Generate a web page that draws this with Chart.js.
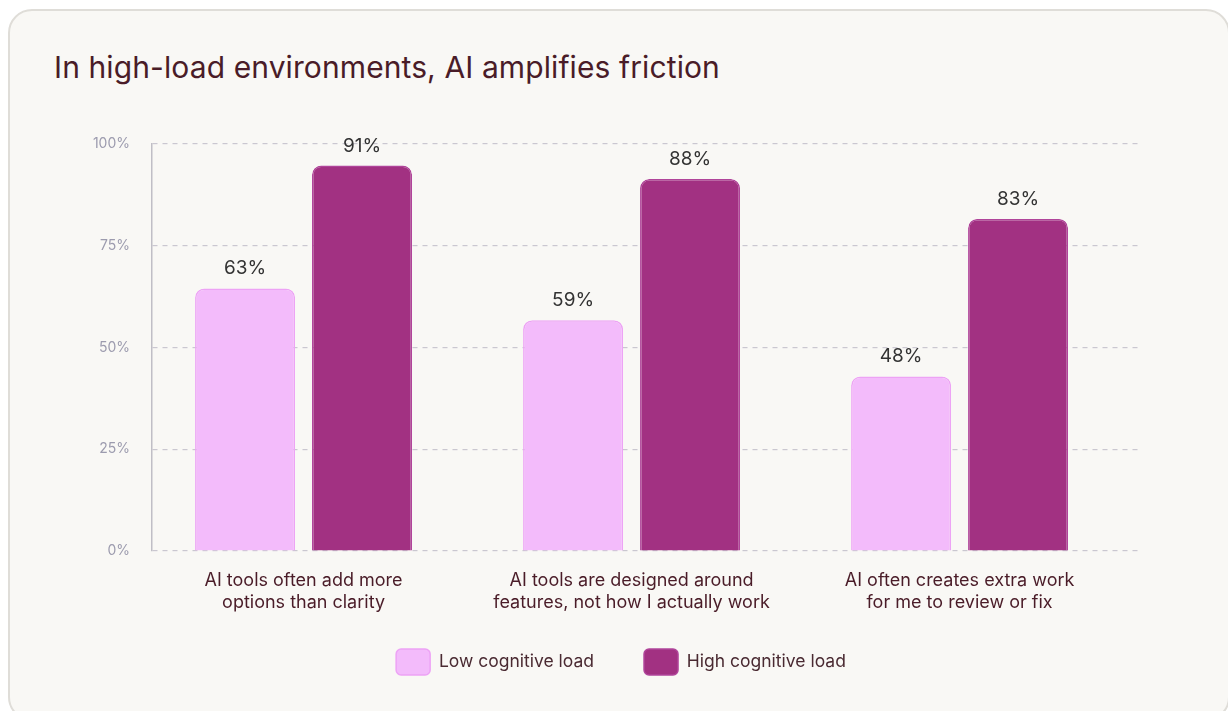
<!DOCTYPE html>
<html>
<head>
<meta charset="utf-8">
<script src="https://cdn.jsdelivr.net/npm/chart.js@4.4.1/dist/chart.umd.min.js"></script>
<style>
  html, body { margin: 0; padding: 0; background: #ffffff; overflow: hidden; }
  body { width: 1228px; height: 711px; position: relative; font-family: Inter, sans-serif; }
  .card {
    position: absolute; left: 8px; top: 9px; width: 1222px; height: 712px;
    box-sizing: border-box; border: 2px solid #dfddd8; border-radius: 24px;
    background: #f9f8f5;
  }
  h1 {
    position: absolute; left: 54px; top: 49px; margin: 0;
    font: 400 30px Inter, sans-serif; color: #4a1c28; letter-spacing: 0.1px;
  }
  .wrap { position: absolute; left: 0; top: 0; width: 1228px; height: 711px; }
</style>
</head>
<body>
<div class="card"></div>
<h1>In high-load environments, AI amplifies friction</h1>
<div class="wrap"><canvas id="bars"></canvas></div>
<script>
const categories = [
  ['AI tools often add more', 'options than clarity'],
  ['AI tools are designed around', 'features, not how I actually work'],
  ['AI often creates extra work', 'for me to review or fix']
]
const seriesNames = ['Low cognitive load', 'High cognitive load']
// bar heights as drawn in the picture (%)
const lowValues = [64.5, 56.7, 42.9]
const highValues = [94.7, 91.4, 81.6]
// printed labels above bars
const lowLabels = ['63%', '59%', '48%']
const highLabels = ['91%', '88%', '83%']
const yTicks = [0, 25, 50, 75, 100]

const toPoints = (vals) => vals.map((v, i) => ({ x: i, y: v }))

const valueLabels = {
  id: 'valueLabels',
  afterDatasetsDraw(chart) {
    const ctx = chart.ctx
    const texts = [lowLabels, highLabels]
    ctx.save()
    ctx.font = '400 19px Inter, sans-serif'
    ctx.fillStyle = '#333333'
    ctx.textAlign = 'center'
    ctx.textBaseline = 'alphabetic'
    chart.data.datasets.forEach((ds, i) => {
      chart.getDatasetMeta(i).data.forEach((bar, j) => {
        ctx.fillText(texts[i][j], bar.x, bar.y - 14)
      })
    })
    ctx.restore()
  }
}

// nudge the legend so it sits centred like the original
const legendShift = {
  id: 'legendShift',
  afterLayout(chart) {
    chart.legend.left += 21
    chart.legend.right += 21
  }
}

const el = document.getElementById('bars')
new Chart(el.getContext('2d'), {
  type: 'bar',
  data: {
    datasets: [
      {
        label: seriesNames[0], data: toPoints(lowValues),
        backgroundColor: '#f3bbfb', borderColor: '#eda3f5', borderWidth: 1.5,
        borderRadius: { topLeft: 9, topRight: 9 }, borderSkipped: 'bottom'
      },
      {
        label: seriesNames[1], data: toPoints(highValues),
        backgroundColor: '#a23182', borderColor: '#b0449a', borderWidth: 1.5,
        borderRadius: { topLeft: 9, topRight: 9 }, borderSkipped: 'bottom'
      }
    ]
  },
  options: {
    responsive: true,
    maintainAspectRatio: false,
    animation: false,
    categoryPercentage: 0.713,
    barPercentage: 0.855,
    layout: { padding: { top: 144, left: 60, right: 88, bottom: 26 } },
    scales: {
      x: {
        type: 'linear',
        offset: false,
        min: -0.462, max: 2.550,
        afterBuildTicks: (s) => { s.ticks = categories.map((c, i) => ({ value: i })) },
        grid: { display: false },
        border: { display: false },
        ticks: {
          color: '#4a1c28', font: { family: 'Inter', size: 18, lineHeight: 1.22 },
          mirror: true, padding: -41, maxRotation: 0,
          callback: (v) => categories[v]
        },
        afterFit: (s) => { s.height = 48 }
      },
      y: {
        min: 0, max: 100,
        afterBuildTicks: (s) => { s.ticks = yTicks.map(v => ({ value: v })) },
        grid: { color: '#cac7d0', lineWidth: 1.2, drawTicks: false },
        border: { display: true, color: '#c0bec6', width: 1.5, dash: [5, 5] },
        ticks: { color: '#9c9bae', font: { family: 'Inter', size: 14 }, padding: 22, callback: (v) => v + '%' },
        afterFit: (s) => { s.width = 92 }
      }
    },
    plugins: {
      legend: {
        position: 'bottom',
        labels: {
          boxWidth: 34, boxHeight: 26, padding: 50,
          useBorderRadius: true, borderRadius: 5,
          color: '#4a2a32', font: { family: 'Inter', size: 17.5 }
        }
      },
      tooltip: { enabled: false }
    }
  },
  plugins: [valueLabels, legendShift]
})
</script>
</body>
</html>
